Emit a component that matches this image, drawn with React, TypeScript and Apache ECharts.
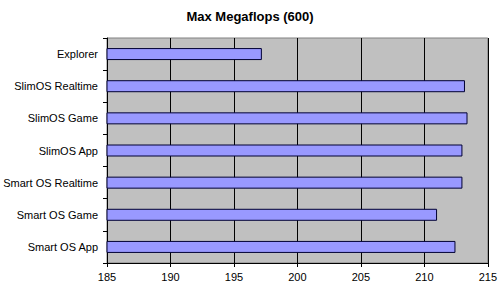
import React, { useEffect, useRef } from "react";
import * as echarts from "echarts";

const categories = [
  "Smart OS App",
  "Smart OS Game",
  "Smart OS Realtime",
  "SlimOS App",
  "SlimOS Game",
  "SlimOS Realtime",
  "Explorer",
];
const values = [212.45, 211.0, 213.0, 213.0, 213.4, 213.2, 197.2];
const titleText = "Max Megaflops (600)";

export default function App() {
  const ref = useRef<HTMLDivElement>(null);
  useEffect(() => {
    document.body.style.margin = "0";
    const chart = echarts.init(ref.current!, null, { renderer: "svg" });
    chart.setOption({
      animation: false,
      backgroundColor: "#ffffff",
      title: {
        text: titleText,
        left: "center",
        top: 5,
        textStyle: { fontFamily: "Liberation Sans", fontSize: 13, fontWeight: "bold", color: "#000" },
      },
      grid: {
        left: 107,
        right: 12,
        top: 38,
        bottom: 26,
        show: true,
        backgroundColor: "#c0c0c0",
        borderColor: "#808080",
        borderWidth: 1,
      },
      xAxis: {
        type: "value",
        min: 185,
        max: 215,
        interval: 5,
        axisLine: { show: true, lineStyle: { color: "#000", width: 1 } },
        axisTick: { show: true, length: 4, lineStyle: { color: "#000" } },
        splitLine: { show: true, lineStyle: { color: "#000", width: 1 } },
        axisLabel: { color: "#000", fontFamily: "Liberation Sans", fontSize: 11, margin: 8 },
      },
      yAxis: {
        type: "category",
        data: categories,
        axisLine: { show: true, lineStyle: { color: "#000", width: 1 } },
        axisTick: { show: true, length: 4, lineStyle: { color: "#000" } },
        splitLine: { show: false },
        axisLabel: { color: "#000", fontFamily: "Liberation Sans", fontSize: 11, margin: 9 },
      },
      series: [
        {
          type: "bar",
          data: values,
          barWidth: 12,
          itemStyle: { color: "#9999ff", borderColor: "#000033", borderWidth: 1 },
        },
      ],
    });
    return () => chart.dispose();
  }, []);
  return <div ref={ref} style={{ width: 500, height: 289 }} />;
}
